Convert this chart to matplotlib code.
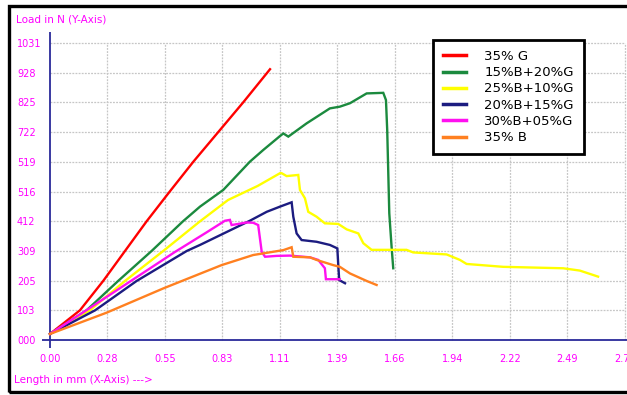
import matplotlib
matplotlib.use("Agg")
import matplotlib.pyplot as plt
from matplotlib.patches import Rectangle

# ---------------- data ----------------
x_ticks_max = 2.7675
x_tick_labels = ["0.00", "0.28", "0.55", "0.83", "1.11", "1.39", "1.66", "1.94", "2.22", "2.49", "2.77"]
y_ticks_max = 1031
y_tick_labels = ["000", "103", "205", "309", "412", "516", "519", "722", "825", "928", "1031"]

labels = ["35% G", "15%B+20%G", "25%B+10%G", "20%B+15%G", "30%B+05%G", "35% B"]
colors = ["#ff0000", "#1b8a3e", "#ffff00", "#1c1c80", "#ff10f0", "#ff8020"]

g35_x = [0, 0.144, 0.256, 0.361, 0.465, 0.577, 0.690, 0.810, 0.930, 1.059]
g35_y = [21, 103, 205, 309, 412, 516, 619, 722, 825, 940]

b15g20_x = [0, 0.176, 0.328, 0.489, 0.640, 0.722, 0.834, 0.962, 1.027, 1.107, 1.123, 1.147,
            1.235, 1.347, 1.395, 1.444, 1.524, 1.604, 1.617, 1.623, 1.633, 1.644, 1.652]
b15g20_y = [21, 103, 205, 309, 412, 463, 521, 619, 660, 708, 717, 706,
            752, 804, 810, 822, 856, 858, 833, 729, 440, 324, 249]

b25g10_x = [0, 0.192, 0.361, 0.545, 0.722, 0.857, 1.000, 1.107, 1.115, 1.139, 1.195, 1.203,
            1.227, 1.243, 1.283, 1.323, 1.387, 1.428, 1.484, 1.508, 1.548, 1.636, 1.716,
            1.748, 1.909, 1.973, 2.005, 2.181, 2.470, 2.550, 2.638]
b25g10_y = [21, 103, 205, 309, 412, 486, 535, 579, 579, 569, 573, 521,
            492, 445, 428, 405, 403, 384, 370, 336, 313, 313, 313,
            304, 297, 278, 264, 254, 249, 241, 220]

b20g15_x = [0, 0.217, 0.417, 0.658, 0.722, 0.962, 1.043, 1.107, 1.163, 1.171, 1.187, 1.211,
            1.283, 1.347, 1.383, 1.387, 1.392, 1.420]
b20g15_y = [21, 103, 205, 309, 330, 414, 445, 463, 478, 428, 370, 347,
            341, 330, 318, 266, 208, 197]

b30g05_x = [0, 0.200, 0.400, 0.600, 0.750, 0.842, 0.866, 0.874, 0.946, 0.978, 1.002, 1.019,
            1.035, 1.091, 1.155, 1.251, 1.291, 1.323, 1.328, 1.395]
b30g05_y = [21, 115, 210, 305, 372, 414, 417, 399, 408, 407, 399, 306,
            289, 292, 293, 287, 278, 249, 211, 211]

b35_x = [0, 0.273, 0.545, 0.826, 0.978, 1.123, 1.163, 1.171, 1.251, 1.283, 1.363, 1.395,
         1.444, 1.524, 1.572]
b35_y = [21, 95, 179, 260, 295, 312, 322, 289, 287, 278, 260, 254,
         231, 205, 191]

series_x = [g35_x, b15g20_x, b25g10_x, b20g15_x, b30g05_x, b35_x]
series_y = [g35_y, b15g20_y, b25g10_y, b20g15_y, b30g05_y, b35_y]

# ---------------- figure ----------------
W, H = 627, 395
fig = plt.figure(figsize=(W / 100, H / 100), dpi=100)
fig.patch.set_facecolor("white")

ax_left, ax_right, ax_top, ax_bot = 42, 627, 32, 348
ax = fig.add_axes([ax_left / W, 1 - ax_bot / H, (ax_right - ax_left) / W, (ax_bot - ax_top) / H])
ax.set_facecolor("white")

px_per_x = 57.5 / (x_ticks_max / 10)
px_per_y = 297 / y_ticks_max
ax.set_xlim(-(50 - ax_left) / px_per_x, x_ticks_max + (ax_right - 50 - 575) / px_per_x)
ax.set_ylim(-(ax_bot - 340) / px_per_y, y_ticks_max + (43 - ax_top) / px_per_y)

xt = [x_ticks_max * i / 10 for i in range(11)]
yt = [y_ticks_max * i / 10 for i in range(11)]

grid_kw = dict(color="#c6c6c6", linewidth=0.9, linestyle=(0, (1.5, 1)), zorder=1)
ax.vlines(xt[1:], 0, y_ticks_max, **grid_kw)
ax.hlines(yt[1:], 0, x_ticks_max, **grid_kw)

for s in ax.spines.values():
    s.set_visible(False)
ax.axhline(0, color="#2a2a9a", linewidth=1.3, zorder=2)
ax.axvline(0, color="#2a2a9a", linewidth=1.3, zorder=2)

for xs, ys, c, lab in zip(series_x, series_y, colors, labels):
    ax.plot(xs, ys, color=c, linewidth=1.7, label=lab, zorder=3, solid_joinstyle="miter")

ax.set_xticks(xt)
ax.set_xticklabels(x_tick_labels, color="#ff00ff", fontsize=7)
ax.set_yticks(yt)
ax.set_yticklabels(y_tick_labels, color="#ff00ff", fontsize=7)
for lbl in ax.get_yticklabels():
    lbl.set_horizontalalignment("left")
ax.tick_params(axis="y", length=0, pad=(ax_left - 17) * 0.72)
ax.tick_params(axis="x", length=0, pad=4)

fig.text(16 / W, 1 - 19 / H, "Load in N (Y-Axis)", color="#ff00ff", fontsize=7.5,
         ha="left", va="center")
fig.text(14 / W, 1 - 380 / H, "Length in mm (X-Axis) --->", color="#ff00ff", fontsize=7.5,
         ha="left", va="center")

leg = ax.legend(loc="upper left", bbox_to_anchor=(433 / W, 1 - 40 / H),
                bbox_transform=fig.transFigure, borderaxespad=0, fontsize=9.5,
                frameon=True, fancybox=False, handlelength=1.75, handletextpad=1.4,
                labelspacing=0.25, borderpad=0.75)
frame = leg.get_frame()
frame.set_edgecolor("black")
frame.set_linewidth(2)
frame.set_facecolor("white")
frame.set_alpha(1)
for line in leg.get_lines():
    line.set_linewidth(2.5)

fig.add_artist(Rectangle((9 / W, 1 - 392 / H), 2.0, (392 - 6) / H, transform=fig.transFigure,
                         fill=False, edgecolor="black", linewidth=2.4, clip_on=False))

fig.savefig("out.png", dpi=100, facecolor="white")
